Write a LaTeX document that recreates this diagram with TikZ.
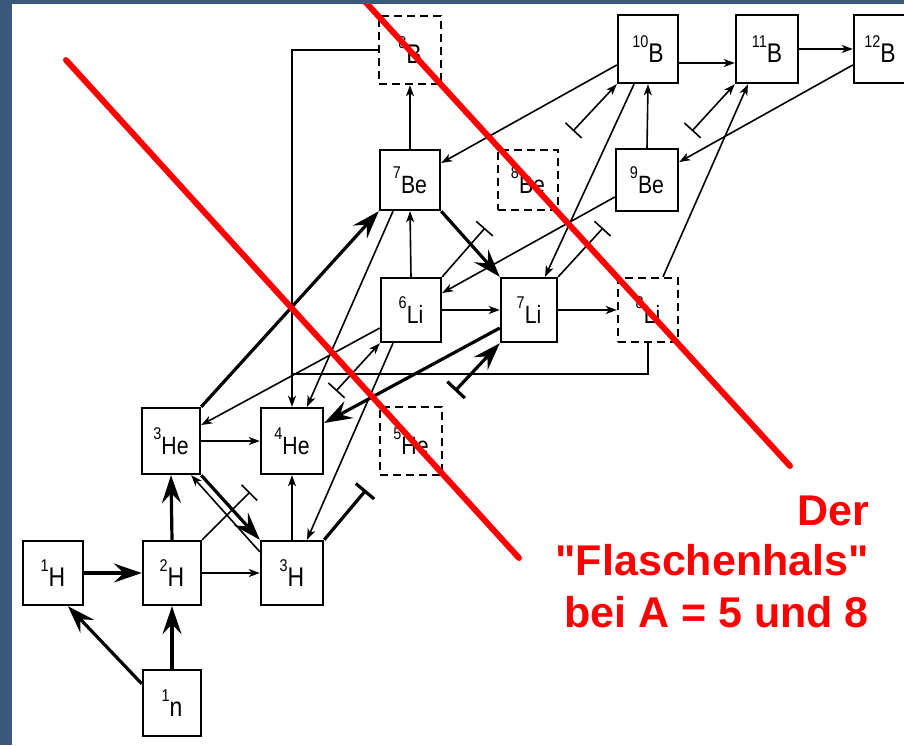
\documentclass[tikz,border=0pt]{standalone}
\usepackage{fontspec}
\setmainfont{Liberation Sans}
\newfontfamily\labfont[FakeStretch=0.85]{Liberation Sans}
\newfontfamily\capfont[Ligatures=TeXOff]{Liberation Sans}
\usetikzlibrary{arrows.meta,calc}
\definecolor{frameblue}{RGB}{60,88,122}
\definecolor{neckred}{RGB}{255,0,0}
\newcommand\nucS[2]{{\labfont\fontsize{25}{25}\selectfont\raisebox{15pt}{\fontsize{17}{17}\selectfont #1}#2}}
\newcommand\nucL[2]{{\labfont\fontsize{27}{27}\selectfont\raisebox{15pt}{\fontsize{17}{17}\selectfont #1}#2}}
\tikzset{
  nbox/.style={draw, line width=2.4pt, inner sep=0pt, minimum width=60pt, minimum height=66pt},
  dbox/.style={nbox, dash pattern=on 8pt off 5pt},
  tarr/.style={line width=1.6pt, -{Stealth[length=11pt,width=8pt,inset=3pt]}},
  Tarr/.style={line width=3.2pt, -{Stealth[length=28pt,width=19pt,inset=10pt]}},
  plainline/.style={line width=1.6pt},
  tbar/.style={line width=1.6pt, -{Bar[width=22pt]}},
  Tbar/.style={line width=3.2pt, -{Bar[width=24pt]}},
  bartarr/.style={line width=1.6pt, {Bar[width=22pt]}-{Stealth[length=11pt,width=8pt,inset=3pt]}},
  barTarr/.style={line width=3.2pt, {Bar[width=24pt]}-{Stealth[length=28pt,width=19pt,inset=10pt]}},
  redline/.style={draw=neckred, line width=6pt, line cap=round},
  captxt/.style={text=neckred, font=\capfont\fontsize{43}{51}\selectfont\bfseries, inner sep=0pt}
}
\begin{document}
\begin{tikzpicture}[x=1pt, y=-1pt]
\clip (0,0) rectangle (904,745);
\fill[white] (0,0) rectangle (904,745);

% nodes
\node[nbox, minimum width=60pt, minimum height=64pt] (H1) at (53,573) {\nucL{1}{H}};
\node[nbox, minimum width=58pt, minimum height=64pt] (H2) at (172,573) {\nucL{2}{H}};
\node[nbox, minimum width=62pt, minimum height=64pt] (H3) at (292,573) {\nucL{3}{H}};
\node[nbox, minimum width=58pt, minimum height=66pt] (n1) at (172,703) {\nucL{1}{n}};
\node[nbox, minimum width=58pt, minimum height=66pt] (He3) at (171,441) {\nucS{3}{He}};
\node[nbox, minimum width=62pt, minimum height=66pt] (He4) at (292,441) {\nucS{4}{He}};
\node[dbox, minimum width=62pt, minimum height=68pt] (He5) at (411,441) {\nucS{5}{He}};
\node[nbox, minimum width=60pt, minimum height=64pt] (Li6) at (411,310) {\nucS{6}{Li}};
\node[nbox, minimum width=56pt, minimum height=64pt] (Li7) at (529,310) {\nucS{7}{Li}};
\node[dbox, minimum width=60pt, minimum height=64pt] (Li8) at (648,310) {\nucS{8}{Li}};
\node[nbox, minimum width=60pt, minimum height=60pt] (Be7) at (410,180) {\nucS{7}{Be}};
\node[dbox, minimum width=60pt, minimum height=60pt] (Be8) at (528,180) {\nucS{8}{Be}};
\node[nbox, minimum width=62pt, minimum height=62pt] (Be9) at (647,180) {\nucS{9}{Be}};
\node[dbox, minimum width=62pt, minimum height=68pt] (B8) at (410,50) {\nucL{8}{B}};
\node[nbox, minimum width=60pt, minimum height=68pt] (B10) at (648,49) {\nucL{10}{B}};
\node[nbox, minimum width=62pt, minimum height=68pt] (B11) at (767,49) {\nucL{11}{B}};
\node[nbox, minimum width=52pt, minimum height=68pt] (B12) at (880,49) {\nucL{12}{B}};

% free ends
\coordinate (bH2) at (250,492);
\coordinate (bH3) at (366,490);
\coordinate (bLi6a) at (336,391);
\coordinate (bLi7a) at (455,391);
\coordinate (bLi6b) at (485,228);
\coordinate (bLi7b) at (603,228);
\coordinate (bB10) at (573,131);
\coordinate (bB11) at (692,131);
\coordinate (J) at (292,374);

% thick reactions
\draw[Tarr] ([yshift=-15pt]n1.north west) -- ([xshift=15pt]H1.south);
\draw[Tarr] (n1.north) -- (H2.south);
\draw[Tarr] (H1.east) -- (H2.west);
\draw[Tarr] (H2.north) -- (He3.south);
\draw[Tarr] (He3.south east) -- (H3.north west);
\draw[Tarr] (He3.north east) -- (Be7.south west);
\draw[Tarr] (Be7.south east) -- (Li7.north west);
\draw[Tarr] ([yshift=-18pt]Li7.west) -- ([yshift=18pt]He4.east);
\draw[barTarr] (bLi7a) -- (Li7.south west);
\draw[Tbar] (H3.north east) -- (bH3);

% thin reactions
\draw[tarr] (H2.east) -- (H3.west);
\draw[tbar] (H2.north east) -- (bH2);
\draw[tarr] ([yshift=-12pt]H3.north west) -- ([xshift=-10pt]He3.south east);
\draw[tarr] (H3.north) -- (He4.south);
\draw[tarr] (He3.east) -- (He4.west);
\draw[tarr] ([xshift=-18pt]Li6.south) -- ([xshift=15pt]H3.north);
\draw[tarr] ([yshift=-18pt]Li6.west) -- ([yshift=16pt]He3.east);
\draw[bartarr] (bLi6a) -- (Li6.south west);
\draw[tarr] ([xshift=-17pt]Be7.south) -- ([xshift=15pt]He4.north);
\draw[tarr] (B8.west) -| (He4.north);
\draw[plainline] (Li8.south) |- (J);
\draw[tarr] (Li6.north) -- (Be7.south);
\draw[tarr] (Be7.north) -- (B8.south);
\draw[tarr] (Li6.east) -- (Li7.west);
\draw[tarr] (Li7.east) -- (Li8.west);
\draw[tbar] (Li6.north east) -- (bLi6b);
\draw[tbar] (Li7.north east) -- (bLi7b);
\draw[tarr] ([yshift=-17pt]Be9.west) -- ([yshift=17pt]Li6.east);
\draw[tarr] ([yshift=-16pt]B10.west) -- ([yshift=17pt]Be7.east);
\draw[tarr] ([xshift=-14pt]B10.south) -- ([xshift=16pt]Li7.north);
\draw[tarr] (Be9.north) -- (B10.south);
\draw[tarr] ([yshift=-14pt]B10.east) -- ([yshift=-14pt]B11.west);
\draw[tarr] (B11.east) -- (B12.west);
\draw[tarr] ([yshift=-16pt]B12.west) -- ([yshift=18pt]Be9.east);
\draw[tarr] ([xshift=15pt]Li8.north) -- ([xshift=-19pt]B11.south);
\draw[bartarr] (bB10) -- (B10.south west);
\draw[bartarr] (bB11) -- (B11.south west);

% bottleneck lines
\draw[redline] (66,60) -- (519,558);
\draw[redline] (360,-4) -- (790,466);

% caption
\node[captxt, anchor=base east] (c1) at (869,525) {Der};
\node[captxt, anchor=base east] (c2) at (869,575) {"Flaschenhals"};
\node[captxt, anchor=base east] (c3) at (869,627) {bei A = 5 und 8};

% frame
\fill[frameblue] (0,0) rectangle (12,745);
\fill[frameblue] (0,0) rectangle (904,4);
\end{tikzpicture}
\end{document}
